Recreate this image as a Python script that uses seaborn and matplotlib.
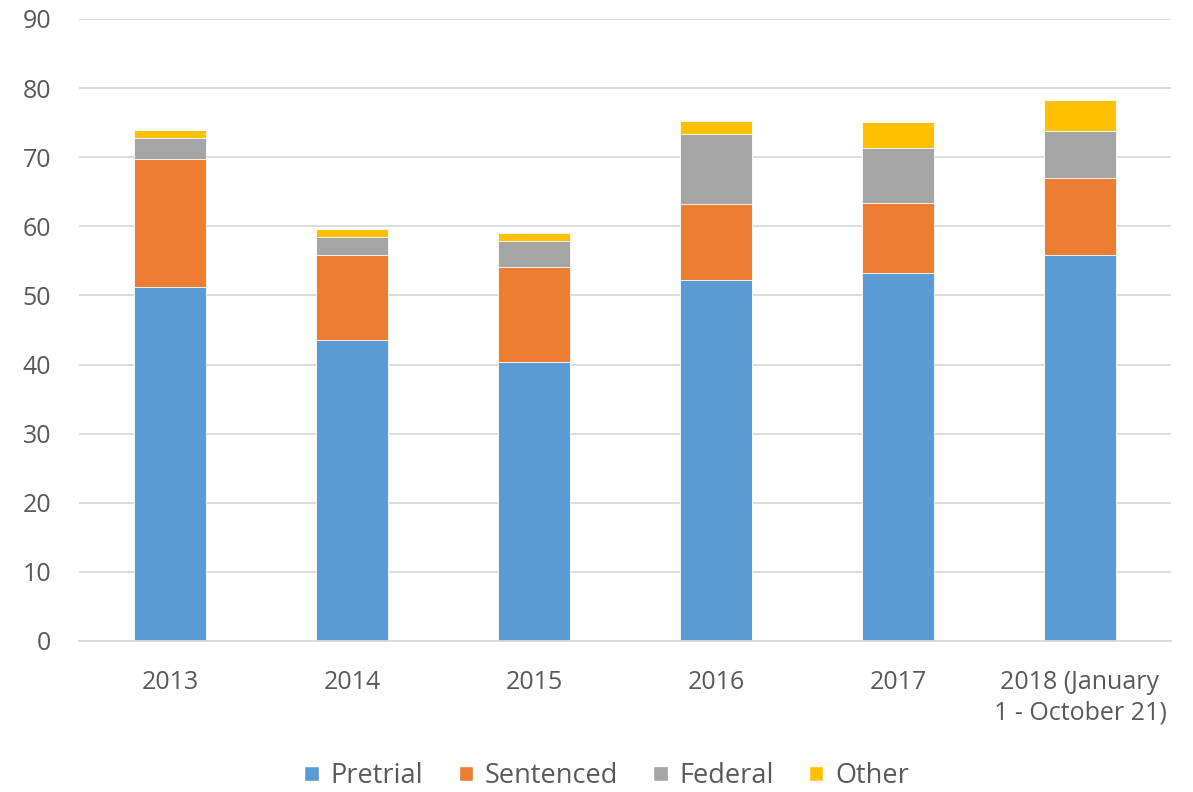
import matplotlib
matplotlib.use("Agg")
import matplotlib.pyplot as plt
import seaborn as sns
import numpy as np
import pandas as pd
from matplotlib.patches import Patch

categories = ["2013", "2014", "2015", "2016", "2017", "2018 (January\n1 - October 21)"]
pretrial = [51.2, 43.5, 40.3, 52.3, 53.2, 55.8]
sentenced = [18.6, 12.3, 13.8, 11.0, 10.2, 11.2]
federal = [3.0, 2.7, 3.8, 10.0, 8.0, 6.8]
other = [1.1, 1.1, 1.2, 2.0, 3.7, 4.5]

series_names = ["Pretrial", "Sentenced", "Federal", "Other"]
series_vals = [pretrial, sentenced, federal, other]
colors = ["#5B9BD5", "#ED7D31", "#A5A5A5", "#FFC000"]

sns.set_theme(style="white")
plt.rcParams['font.family'] = ['Open Sans', 'DejaVu Sans']

fig = plt.figure(figsize=(11.93, 7.92), dpi=100)
ax = fig.add_axes([79/1193, 1-641/792, 1092/1193, (641-19)/792])

# cumulative stacks, draw from top down
cum = np.cumsum(np.array(series_vals), axis=0)
for i in range(len(series_names) - 1, -1, -1):
    df = pd.DataFrame({"cat": categories, "val": cum[i]})
    sns.barplot(data=df, x="cat", y="val", color=colors[i], width=0.4,
                ax=ax, saturation=1, edgecolor="#ffffff", linewidth=0.6, zorder=2)

ax.set_ylim(0, 90)
ax.set_xlim(-0.5, 5.5)
ax.set_yticks(range(0, 91, 10))
ax.yaxis.grid(True, color="#D9D9D9", linewidth=1.3, zorder=0)
ax.set_axisbelow(True)
for s in ["top", "right", "left"]:
    ax.spines[s].set_visible(False)
ax.spines["bottom"].set_color("#D9D9D9")
ax.spines["bottom"].set_linewidth(1.3)
ax.set_xlabel("")
ax.set_ylabel("")
ax.tick_params(axis="both", length=0, labelsize=18, colors="#595959")
ax.tick_params(axis="y", pad=20)
ax.tick_params(axis="x", pad=21)
for lbl in ax.get_xticklabels():
    lbl.set_linespacing(1.28)

handles = [Patch(facecolor=c, label=n) for c, n in zip(colors, series_names)]
fig.legend(handles=handles, loc="center", bbox_to_anchor=(607/1193, 1-776/792), ncol=4,
           frameon=False, fontsize=19.5, handlelength=0.52, handleheight=0.52,
           columnspacing=1.3, handletextpad=0.45, labelcolor="#595959")

fig.savefig("out.png", dpi=100)
